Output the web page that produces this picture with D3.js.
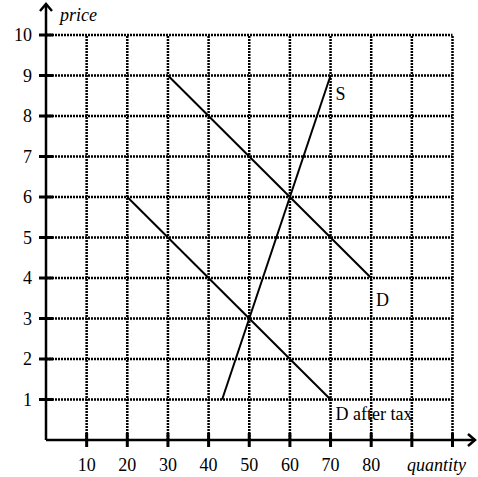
<!DOCTYPE html>
<html>
<head>
<meta charset="utf-8">
<script src="https://cdn.jsdelivr.net/npm/d3@7"></script>
<style>
  body { margin: 0; background: #fff; }
  svg text { font-family: "Liberation Serif", "Times New Roman", serif; fill: #000; font-size: 18px; }
</style>
</head>
<body>
<svg width="478" height="477"></svg>
<script>
// tick values
let xTicks = [10, 20, 30, 40, 50, 60, 70, 80, 90, 100];
let xTickLabels = ["10", "20", "30", "40", "50", "60", "70", "80", "", ""];
let yTicks = [1, 2, 3, 4, 5, 6, 7, 8, 9, 10];

// curves (quantity, price)
let supply = [[43.33, 1], [70, 9]];
let demand = [[30, 9], [80, 4]];
let demandAfterTax = [[20, 6], [70, 1]];

let curveLabels = [
    {text: "S", q: 71.2, p: 8.4},
    {text: "D", q: 81.2, p: 3.3},
    {text: "D after tax", q: 71.2, p: 0.5}
];

let svg = d3.select("svg");

let x = d3.scaleLinear().domain([0, 100]).range([46, 452.5]),
    y = d3.scaleLinear().domain([0, 10]).range([440, 35]);

// grid
let grid = svg.append("g")
    .attr("stroke", "#000")
    .attr("stroke-width", 2.5)
    .attr("stroke-dasharray", "2,1");

grid.selectAll(".hgrid")
    .data(yTicks)
    .enter().append("line")
    .attr("x1", x(0)).attr("x2", x(100))
    .attr("y1", function (d) { return y(d); })
    .attr("y2", function (d) { return y(d); });

grid.selectAll(".vgrid")
    .data(xTicks)
    .enter().append("line")
    .attr("y1", y(0)).attr("y2", y(10))
    .attr("x1", function (d) { return x(d); })
    .attr("x2", function (d) { return x(d); });

// axes with arrows
let axes = svg.append("g").attr("stroke", "#000").attr("fill", "none");

axes.append("line")
    .attr("x1", x(0)).attr("x2", x(0))
    .attr("y1", y(0)).attr("y2", 4)
    .attr("stroke-width", 2.5);
axes.append("path")
    .attr("d", "M" + (x(0) - 6) + ",11L" + x(0) + ",4L" + (x(0) + 6) + ",11")
    .attr("stroke-width", 2.5);

axes.append("line")
    .attr("x1", x(0)).attr("x2", 475)
    .attr("y1", y(0)).attr("y2", y(0))
    .attr("stroke-width", 2.5);
axes.append("path")
    .attr("d", "M468," + (y(0) - 6) + "L475," + y(0) + "L468," + (y(0) + 6))
    .attr("stroke-width", 2.5);

// tick marks
axes.selectAll(".ytick")
    .data(yTicks)
    .enter().append("line")
    .attr("x1", x(0) - 7).attr("x2", x(0) + 7)
    .attr("y1", function (d) { return y(d); })
    .attr("y2", function (d) { return y(d); })
    .attr("stroke-width", 3);

axes.selectAll(".xtick")
    .data(xTicks)
    .enter().append("line")
    .attr("y1", y(0) - 7).attr("y2", y(0) + 7)
    .attr("x1", function (d) { return x(d); })
    .attr("x2", function (d) { return x(d); })
    .attr("stroke-width", 3);

// tick labels
svg.selectAll(".ylabel")
    .data(yTicks)
    .enter().append("text")
    .attr("x", 32)
    .attr("y", function (d) { return y(d); })
    .attr("dy", "0.35em")
    .attr("text-anchor", "end")
    .text(function (d) { return d; });

svg.selectAll(".xlabel")
    .data(xTicks)
    .enter().append("text")
    .attr("x", function (d) { return x(d); })
    .attr("y", 471)
    .attr("text-anchor", "middle")
    .text(function (d, i) { return xTickLabels[i]; });

svg.append("text")
    .attr("x", 60).attr("y", 21)
    .style("font-style", "italic")
    .text("price");

svg.append("text")
    .attr("x", 407).attr("y", 471)
    .style("font-style", "italic")
    .text("quantity");

// curves
let line = d3.line()
    .x(function (d) { return x(d[0]); })
    .y(function (d) { return y(d[1]); });

svg.selectAll(".curve")
    .data([supply, demand, demandAfterTax])
    .enter().append("path")
    .attr("d", line)
    .attr("fill", "none")
    .attr("stroke", "#000")
    .attr("stroke-width", 2);

svg.selectAll(".clabel")
    .data(curveLabels)
    .enter().append("text")
    .attr("x", function (d) { return x(d.q); })
    .attr("y", function (d) { return y(d.p); })
    .text(function (d) { return d.text; });
</script>
</body>
</html>
